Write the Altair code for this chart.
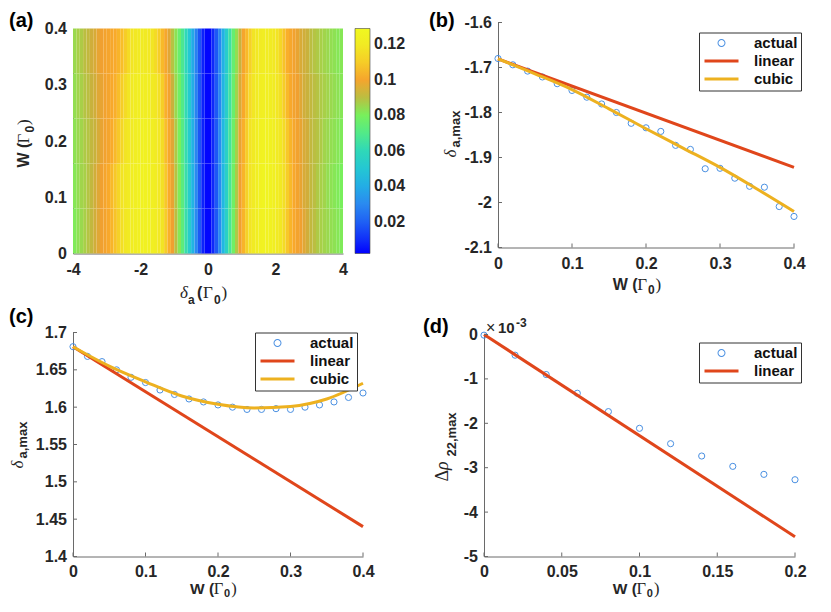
import altair as alt
import pandas as pd

SANS = "Liberation Sans"
SERIF = "Liberation Serif"
INK = "#262626"
AXIS = "#6a6a6a"
BLUE = "#4a90e2"
RED = "#e0461b"
YEL = "#edb120"

# ---------------- (a) heat map ----------------
delta_centers = [-3.95, -3.85, -3.75, -3.65, -3.55, -3.45, -3.35, -3.25, -3.15, -3.05,
                 -2.95, -2.85, -2.75, -2.65, -2.55, -2.45, -2.35, -2.25, -2.15, -2.05,
                 -1.95, -1.85, -1.75, -1.65, -1.55, -1.45, -1.35, -1.25, -1.15, -1.05,
                 -0.95, -0.85, -0.75, -0.65, -0.55, -0.45, -0.35, -0.25, -0.15, -0.05,
                 0.05, 0.15, 0.25, 0.35, 0.45, 0.55, 0.65, 0.75, 0.85, 0.95,
                 1.05, 1.15, 1.25, 1.35, 1.45, 1.55, 1.65, 1.75, 1.85, 1.95,
                 2.05, 2.15, 2.25, 2.35, 2.45, 2.55, 2.65, 2.75, 2.85, 2.95,
                 3.05, 3.15, 3.25, 3.35, 3.45, 3.55, 3.65, 3.75, 3.85, 3.95]
w_rows = [0.04, 0.12, 0.20, 0.28, 0.36]
heat_w004 = [0.081, 0.083, 0.085, 0.087, 0.089, 0.091, 0.093, 0.095, 0.097, 0.099,
             0.102, 0.105, 0.108, 0.111, 0.114, 0.117, 0.119, 0.121, 0.122, 0.123,
             0.124, 0.124, 0.124, 0.123, 0.121, 0.118, 0.115, 0.110, 0.104, 0.097,
             0.090, 0.082, 0.073, 0.063, 0.053, 0.042, 0.030, 0.018, 0.008, 0.003,
             0.003, 0.009, 0.018, 0.030, 0.043, 0.055, 0.067, 0.078, 0.088, 0.097,
             0.105, 0.111, 0.116, 0.120, 0.122, 0.124, 0.125, 0.125, 0.124, 0.122,
             0.120, 0.117, 0.113, 0.109, 0.105, 0.102, 0.099, 0.097, 0.095, 0.093,
             0.091, 0.090, 0.088, 0.087, 0.086, 0.085, 0.084, 0.083, 0.082, 0.081]
heat_w012 = [0.082, 0.084, 0.086, 0.087, 0.089, 0.091, 0.093, 0.095, 0.097, 0.100,
             0.103, 0.106, 0.109, 0.112, 0.115, 0.118, 0.120, 0.122, 0.123, 0.124,
             0.125, 0.125, 0.124, 0.123, 0.121, 0.118, 0.114, 0.109, 0.103, 0.096,
             0.089, 0.081, 0.072, 0.063, 0.053, 0.042, 0.030, 0.018, 0.008, 0.003,
             0.003, 0.009, 0.018, 0.030, 0.043, 0.055, 0.067, 0.078, 0.088, 0.097,
             0.105, 0.111, 0.116, 0.120, 0.123, 0.125, 0.126, 0.126, 0.125, 0.123,
             0.121, 0.118, 0.114, 0.110, 0.106, 0.102, 0.099, 0.096, 0.094, 0.093,
             0.091, 0.090, 0.088, 0.087, 0.086, 0.084, 0.083, 0.082, 0.081, 0.080]
heat_w020 = [0.083, 0.085, 0.086, 0.088, 0.089, 0.091, 0.092, 0.094, 0.096, 0.098,
             0.100, 0.103, 0.106, 0.109, 0.112, 0.115, 0.118, 0.120, 0.122, 0.123,
             0.124, 0.124, 0.123, 0.122, 0.120, 0.117, 0.113, 0.107, 0.101, 0.095,
             0.088, 0.080, 0.071, 0.062, 0.052, 0.041, 0.029, 0.017, 0.008, 0.003,
             0.003, 0.009, 0.018, 0.030, 0.043, 0.055, 0.066, 0.077, 0.087, 0.096,
             0.104, 0.110, 0.115, 0.119, 0.122, 0.124, 0.125, 0.125, 0.124, 0.122,
             0.120, 0.117, 0.113, 0.109, 0.105, 0.101, 0.098, 0.096, 0.094, 0.093,
             0.091, 0.090, 0.089, 0.088, 0.086, 0.085, 0.084, 0.083, 0.082, 0.081]
heat_w028 = [0.084, 0.086, 0.087, 0.089, 0.090, 0.092, 0.093, 0.095, 0.096, 0.098,
             0.100, 0.102, 0.104, 0.107, 0.110, 0.113, 0.116, 0.119, 0.121, 0.122,
             0.122, 0.122, 0.121, 0.119, 0.117, 0.114, 0.110, 0.104, 0.098, 0.092,
             0.085, 0.078, 0.070, 0.061, 0.051, 0.040, 0.028, 0.017, 0.008, 0.003,
             0.003, 0.009, 0.018, 0.029, 0.042, 0.054, 0.065, 0.076, 0.086, 0.094,
             0.102, 0.108, 0.113, 0.117, 0.120, 0.122, 0.123, 0.123, 0.122, 0.120,
             0.117, 0.114, 0.110, 0.106, 0.102, 0.099, 0.097, 0.095, 0.093, 0.092,
             0.091, 0.090, 0.089, 0.088, 0.087, 0.086, 0.085, 0.084, 0.083, 0.082]
heat_w036 = [0.085, 0.087, 0.088, 0.090, 0.091, 0.093, 0.094, 0.096, 0.097, 0.099,
             0.100, 0.101, 0.103, 0.105, 0.107, 0.110, 0.113, 0.116, 0.118, 0.119,
             0.120, 0.119, 0.118, 0.116, 0.113, 0.110, 0.106, 0.101, 0.095, 0.089,
             0.083, 0.076, 0.068, 0.060, 0.050, 0.039, 0.028, 0.017, 0.008, 0.003,
             0.003, 0.009, 0.018, 0.029, 0.041, 0.053, 0.064, 0.075, 0.084, 0.092,
             0.100, 0.106, 0.111, 0.115, 0.118, 0.120, 0.121, 0.121, 0.120, 0.118,
             0.115, 0.112, 0.108, 0.104, 0.101, 0.098, 0.096, 0.094, 0.093, 0.092,
             0.090, 0.089, 0.088, 0.087, 0.086, 0.085, 0.084, 0.083, 0.082, 0.082]
heat_rows = [heat_w004, heat_w012, heat_w020, heat_w028, heat_w036]
cbar_ticks = [0.02, 0.04, 0.06, 0.08, 0.1, 0.12]
cmap_stops = [0.002, 0.015, 0.03, 0.045, 0.06, 0.07, 0.08, 0.087, 0.092, 0.097, 0.103,
              0.109, 0.115, 0.129]
cmap_colors = ["#0000ff", "#1a4cf6", "#2a8af0", "#1fbfe0", "#2fd8b8", "#52ea88", "#78f05c",
               "#a8d048", "#c8b23c", "#f0a030", "#f9aa2a", "#f7c828", "#f2e424", "#f0f820"]
a_xticks = [-4, -2, 0, 2, 4]
a_yticks = [0, 0.1, 0.2, 0.3, 0.4]

# ---------------- (b) ----------------
W21 = [0, 0.02, 0.04, 0.06, 0.08, 0.1, 0.12, 0.14, 0.16, 0.18, 0.2,
       0.22, 0.24, 0.26, 0.28, 0.3, 0.32, 0.34, 0.36, 0.38, 0.4]
b_actual = [-1.680, -1.694, -1.708, -1.721, -1.736, -1.751, -1.766, -1.781, -1.800, -1.824, -1.834,
            -1.842, -1.873, -1.882, -1.925, -1.924, -1.946, -1.964, -1.966, -2.009, -2.031]
lin_W = [0, 0.4]
b_linear = [-1.681, -1.922]
cub_W = [0, 0.05, 0.1, 0.15, 0.2, 0.25, 0.3, 0.35, 0.4]
b_cubic = [-1.681, -1.714, -1.749, -1.792, -1.836, -1.879, -1.922, -1.970, -2.020]
b_xticks = [0, 0.1, 0.2, 0.3, 0.4]
b_yticks = [-2.1, -2, -1.9, -1.8, -1.7, -1.6]

# ---------------- (c) ----------------
c_actual = [1.681, 1.668, 1.661, 1.650, 1.640, 1.633, 1.623, 1.617, 1.611, 1.607, 1.603,
            1.600, 1.597, 1.597, 1.598, 1.597, 1.600, 1.603, 1.607, 1.613, 1.619]
c_linear = [1.681, 1.440]
c_cubic = [1.681, 1.655, 1.634, 1.615, 1.604, 1.599, 1.601, 1.611, 1.632]
c_xticks = [0, 0.1, 0.2, 0.3, 0.4]
c_yticks = [1.4, 1.45, 1.5, 1.55, 1.6, 1.65, 1.7]

# ---------------- (d) ----------------
W11 = [0, 0.02, 0.04, 0.06, 0.08, 0.1, 0.12, 0.14, 0.16, 0.18, 0.2]
d_actual = [-0.015, -0.466, -0.902, -1.323, -1.737, -2.113, -2.459, -2.737, -2.970, -3.150, -3.271]
d_lin_W = [0, 0.2]
d_linear = [0.0, -4.556]
d_xticks = [0, 0.05, 0.1, 0.15, 0.2]
d_yticks = [-5, -4, -3, -2, -1, 0]

legend3 = ["actual", "linear", "cubic"]
legend2 = ["actual", "linear"]
RING = ("M0.8,0A0.8,0.8,0,1,1,-0.8,0A0.8,0.8,0,1,1,0.8,0Z"
        "M0.6,0A0.6,0.6,0,1,0,-0.6,0A0.6,0.6,0,1,0,0.6,0Z")
BAR = "M-3.4,-0.28H3.4V0.28H-3.4Z"

one = pd.DataFrame({"k": [0]})


def txt(s, x, y, size, weight="bold", style="normal", font=SANS, angle=0,
        baseline="alphabetic", color=INK):
    return alt.Chart(one).mark_text(
        text=s, font=font, fontSize=size, fontWeight=weight, fontStyle=style,
        angle=angle, baseline=baseline, align="left", color=color
    ).encode(x=alt.value(x), y=alt.value(y))


def w_xtitle(x0, y0, fs=16, sfs=12, sdy=4):
    # "W (Γ0)" written along the x axis, baseline y0
    g = x0 + 1.53 * fs
    gs = fs + 1
    s0 = g + 0.6 * gs + 0.5
    p = s0 + 0.556 * sfs + 1
    return [txt("W (", x0, y0, fs), txt("Γ", g, y0, gs, weight="normal", font=SERIF),
            txt("0", s0, y0 + sdy, sfs), txt(")", p, y0, gs, weight="normal", font=SERIF)]


def xaxis(vals, pad=8):
    return alt.Axis(values=vals, title=None, labelExpr="'' + datum.value", labelFont=SANS,
                    labelFontSize=16, labelFontWeight="bold", labelColor=INK, ticks=False,
                    tickSize=0, labelPadding=pad, domainColor=AXIS, domainWidth=1, grid=False,
                    labelOverlap=False, labelFlush=False, labelBaseline="top")


def yaxis(vals, offset=0):
    return alt.Axis(values=vals, title=None, labelExpr="'' + datum.value", labelFont=SANS,
                    labelFontSize=16, labelFontWeight="bold", labelColor=INK, ticks=False,
                    tickSize=0, labelPadding=6.5, domainColor=AXIS, domainWidth=1, grid=False,
                    labelOverlap=False, labelFlush=False, offset=offset)


def in_ticks(xt, yt, xenc, yenc, x0, ybot):
    tx = alt.Chart(pd.DataFrame({"x": xt})).mark_rule(color=AXIS, strokeWidth=1).encode(
        x=xenc, y=alt.value(ybot), y2=alt.value(ybot - 4))
    ty = alt.Chart(pd.DataFrame({"y": yt})).mark_rule(color=AXIS, strokeWidth=1).encode(
        y=yenc, x=alt.value(x0), x2=alt.value(x0 + 4))
    return [tx, ty]


def legend_layer(names, colors, paths, lx, ly):
    L = alt.Legend(orient="none", legendX=lx, legendY=ly, title=None, fillColor="white",
                   strokeColor="#333333", padding=3, symbolSize=100, symbolOffset=12,
                   labelOffset=25, symbolStrokeWidth=0, labelFont=SANS, labelFontSize=15,
                   labelFontWeight="bold", labelColor="#111111", rowPadding=2,
                   direction="vertical")
    return alt.Chart(pd.DataFrame({"s": names})).transform_filter("false").mark_point(
        filled=True, strokeWidth=0, opacity=1
    ).encode(
        color=alt.Color("s:N", scale=alt.Scale(domain=names, range=colors), legend=L),
        shape=alt.Shape("s:N", scale=alt.Scale(domain=names, range=paths), legend=L),
    )


def series(df, enc_x, enc_y, kind, color):
    if kind == "pts":
        return alt.Chart(df).mark_point(shape="circle", filled=False, size=38, strokeWidth=1,
                                        color=color, opacity=1).encode(x=enc_x, y=enc_y)
    return alt.Chart(df).mark_line(color=color, strokeWidth=3, interpolate="monotone").encode(
        x=enc_x, y=enc_y)


# ---------- panel (a): group 270 x 231, plot from y=6 ----------
recs = []
half_d = (delta_centers[1] - delta_centers[0]) / 2
half_w = (w_rows[1] - w_rows[0]) / 2
for wi, w in enumerate(w_rows):
    for di, d in enumerate(delta_centers):
        recs.append({"d0": d - half_d, "d1": d + half_d, "w0": w - half_w, "w1": w + half_w,
                     "val": heat_rows[wi][di]})
heat_df = pd.DataFrame(recs)
cscale = alt.Scale(domain=cmap_stops, range=cmap_colors, interpolate="rgb")
heat = alt.Chart(heat_df).mark_rect(strokeWidth=0).encode(
    x=alt.X("d0:Q", scale=alt.Scale(domain=[-4, 4], nice=False, zero=False), axis=xaxis(a_xticks)),
    x2="d1:Q",
    y=alt.Y("w0:Q", scale=alt.Scale(domain=[0, 0.4], nice=False, zero=False, range=[231, 6]),
            axis=yaxis(a_yticks)),
    y2="w1:Q",
    color=alt.Color("val:Q", scale=cscale, legend=alt.Legend(
        type="gradient", orient="none", legendX=282, legendY=6, direction="vertical",
        gradientLength=225, gradientThickness=15, gradientStrokeColor="#444444",
        gradientStrokeWidth=0.6, values=cbar_ticks, labelExpr="'' + datum.value",
        labelFont=SANS, labelFontSize=16, labelFontWeight="bold", labelColor=INK,
        labelOffset=4, title=None, padding=0, labelOverlap=False)),
)
a_texts = [
    txt("(a)", -64, -11.5, 20, baseline="top", color="#000000"),
    txt("W (", -44, 145, 16, angle=270),
    txt("Γ", -44, 121, 17, weight="normal", font=SERIF, angle=270),
    txt("0", -39.5, 110, 12, angle=270),
    txt(")", -44, 102.5, 17, weight="normal", font=SERIF, angle=270),
    txt("δ", 107, 275, 17, weight="normal", style="italic", font=SERIF),
    txt("a", 115, 281, 12),
    txt("(", 124, 275, 16),
    txt("Γ", 130, 275, 17, weight="normal", font=SERIF),
    txt("0", 141, 281, 12),
    txt(")", 148.5, 275, 17, weight="normal", font=SERIF),
]
panel_a = alt.layer(heat, *a_texts).properties(width=270, height=231)

# ---------- panel (b): group 310 x 225, plot from x=14 ----------
bx = alt.X("x:Q", scale=alt.Scale(domain=[0, 0.4], nice=False, zero=False, range=[14, 310]),
           axis=xaxis(b_xticks))
by = alt.Y("y:Q", scale=alt.Scale(domain=[-2.1, -1.6], nice=False, zero=False),
           axis=yaxis(b_yticks, offset=-14))
b_texts = [
    txt("(b)", -55, -11.5, 20, baseline="top", color="#000000"),
    txt("δ", -28, 135, 17, weight="normal", style="italic", font=SERIF, angle=270),
    txt("a,max", -24, 125, 13, angle=270),
] + w_xtitle(128.7, 267)
panel_b = alt.layer(
    series(pd.DataFrame({"x": W21, "y": b_actual}), bx, by, "pts", BLUE),
    series(pd.DataFrame({"x": lin_W, "y": b_linear}), bx, by, "line", RED),
    series(pd.DataFrame({"x": cub_W, "y": b_cubic}), bx, by, "line", YEL),
    *in_ticks(b_xticks, b_yticks, bx, by, 14, 225),
    legend_layer(legend3, [BLUE, RED, YEL], [RING, BAR, BAR], 215, 10),
    *b_texts).properties(width=310, height=225)

# ---------- panel (c): group 290 x 224 ----------
cx = alt.X("x:Q", scale=alt.Scale(domain=[0, 0.4], nice=False, zero=False),
           axis=xaxis(c_xticks, pad=7))
cy = alt.Y("y:Q", scale=alt.Scale(domain=[1.4, 1.7], nice=False, zero=False), axis=yaxis(c_yticks))
c_texts = [
    txt("(c)", -64, -26, 20, baseline="top", color="#000000"),
    txt("δ", -50.5, 136, 17, weight="normal", style="italic", font=SERIF, angle=270),
    txt("a,max", -46.5, 126, 13, angle=270),
] + w_xtitle(117, 261, fs=15.5, sfs=11, sdy=3.5)
panel_c = alt.layer(
    series(pd.DataFrame({"x": W21, "y": c_actual}), cx, cy, "pts", BLUE),
    series(pd.DataFrame({"x": lin_W, "y": c_linear}), cx, cy, "line", RED),
    series(pd.DataFrame({"x": cub_W, "y": c_cubic}), cx, cy, "line", YEL),
    *in_ticks(c_xticks, c_yticks, cx, cy, 0, 224),
    legend_layer(legend3, [BLUE, RED, YEL], [RING, BAR, BAR], 182, 0),
    *c_texts).properties(width=290, height=224)

# ---------- panel (d): group 311 x 224, plot from y=2 ----------
dx = alt.X("x:Q", scale=alt.Scale(domain=[0, 0.2], nice=False, zero=False),
           axis=xaxis(d_xticks, pad=7))
dy = alt.Y("y:Q", scale=alt.Scale(domain=[-5, 0], nice=False, zero=False, range=[224, 2]),
           axis=yaxis(d_yticks))
d_texts = [
    txt("(d)", -61, -16, 20, baseline="top", color="#000000"),
    txt("×", 2, 0, 16, weight="normal"), txt("10", 14, 0, 15), txt("-3", 32, -6, 12),
    txt("Δ", -36, 149, 18, weight="normal", font=SERIF, angle=270),
    txt("ρ", -36, 137.5, 18, weight="normal", style="italic", font=SERIF, angle=270),
    txt("22,max", -28, 124, 13, angle=270),
] + w_xtitle(128.7, 261, fs=15.5, sfs=11, sdy=3.5)
panel_d = alt.layer(
    series(pd.DataFrame({"x": W11, "y": d_actual}), dx, dy, "pts", BLUE),
    series(pd.DataFrame({"x": d_lin_W, "y": d_linear}), dx, dy, "line", RED),
    *in_ticks(d_xticks, d_yticks, dx, dy, 0, 224),
    legend_layer(legend2, [BLUE, RED], [RING, BAR], 215, 10),
    *d_texts).properties(width=311, height=224)

chart = alt.concat(
    panel_a, panel_b, panel_c, panel_d, columns=2, align="each",
    spacing={"row": 1, "column": 17}
).resolve_scale(
    color="independent", shape="independent", x="independent", y="independent"
).properties(
    padding={"left": 0, "top": 2.5, "right": 5, "bottom": 0}
).configure_view(stroke=None)

chart.save("out.html", embed_options={"renderer": "svg", "actions": False})
